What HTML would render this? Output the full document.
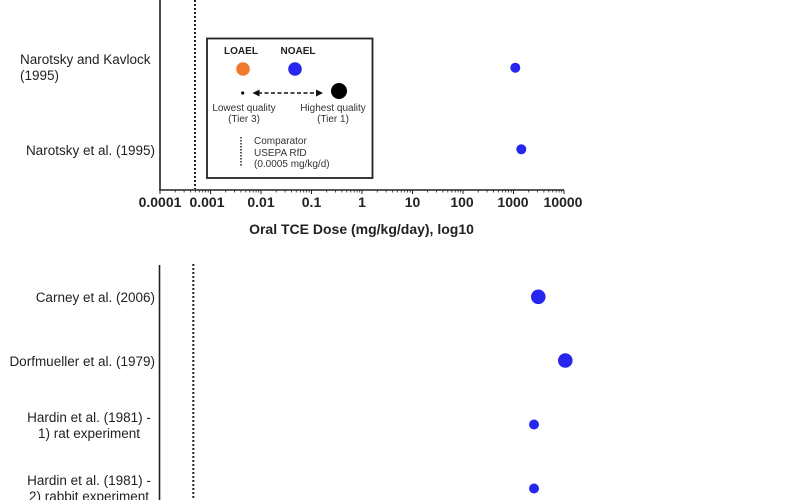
<!DOCTYPE html>
<html><head><meta charset="utf-8"><style>
html,body{margin:0;padding:0;background:#fff;}
svg{display:block;}
text{font-family:"Liberation Sans",Arial,sans-serif;fill:#222;}
</style></head><body>
<svg width="786" height="500" viewBox="0 0 786 500" xmlns="http://www.w3.org/2000/svg">
<rect width="786" height="500" fill="#fff"/>
<!-- Top panel -->
<line x1="160" y1="0" x2="160" y2="190" stroke="#222" stroke-width="1.6"/>
<line x1="159.2" y1="190" x2="564" y2="190" stroke="#222" stroke-width="1.6"/>
<line x1="195" y1="0" x2="195" y2="189" stroke="#222" stroke-width="2" stroke-dasharray="2,2"/>
<g stroke="#222" stroke-width="1">
<line x1="160" y1="190" x2="160" y2="194"/>
<line x1="210.5" y1="190" x2="210.5" y2="194"/>
<line x1="261" y1="190" x2="261" y2="194"/>
<line x1="311.5" y1="190" x2="311.5" y2="194"/>
<line x1="362" y1="190" x2="362" y2="194"/>
<line x1="412.5" y1="190" x2="412.5" y2="194"/>
<line x1="463" y1="190" x2="463" y2="194"/>
<line x1="513.5" y1="190" x2="513.5" y2="194"/>
<line x1="564" y1="190" x2="564" y2="194"/>
</g>
<g stroke="#222" stroke-width="0.8">
<!-- minor ticks per decade: 2..9 -->
<path d="M175.2 190v2.5M184.1 190v2.5M190.4 190v2.5M195.3 190v2.5M199.3 190v2.5M202.7 190v2.5M205.6 190v2.5M208.2 190v2.5
M225.7 190v2.5M234.6 190v2.5M240.9 190v2.5M245.8 190v2.5M249.8 190v2.5M253.2 190v2.5M256.1 190v2.5M258.7 190v2.5
M276.2 190v2.5M285.1 190v2.5M291.4 190v2.5M296.3 190v2.5M300.3 190v2.5M303.7 190v2.5M306.6 190v2.5M309.2 190v2.5
M326.7 190v2.5M335.6 190v2.5M341.9 190v2.5M346.8 190v2.5M350.8 190v2.5M354.2 190v2.5M357.1 190v2.5M359.7 190v2.5
M377.2 190v2.5M386.1 190v2.5M392.4 190v2.5M397.3 190v2.5M401.3 190v2.5M404.7 190v2.5M407.6 190v2.5M410.2 190v2.5
M427.7 190v2.5M436.6 190v2.5M442.9 190v2.5M447.8 190v2.5M451.8 190v2.5M455.2 190v2.5M458.1 190v2.5M460.7 190v2.5
M478.2 190v2.5M487.1 190v2.5M493.4 190v2.5M498.3 190v2.5M502.3 190v2.5M505.7 190v2.5M508.6 190v2.5M511.2 190v2.5
M528.7 190v2.5M537.6 190v2.5M543.9 190v2.5M548.8 190v2.5M552.8 190v2.5M556.2 190v2.5M559.1 190v2.5M561.7 190v2.5"/>
</g>
<g font-size="14" font-weight="bold" text-anchor="middle">
<text x="160" y="207">0.0001</text>
<text x="207" y="207">0.001</text>
<text x="261" y="207">0.01</text>
<text x="311.5" y="207">0.1</text>
<text x="362" y="207">1</text>
<text x="412.5" y="207">10</text>
<text x="462" y="207">100</text>
<text x="513" y="207">1000</text>
<text x="563" y="207">10000</text>
<text x="361.5" y="234">Oral TCE Dose (mg/kg/day), log10</text>
</g>
<g font-size="13.5">
<text x="20" y="64">Narotsky and Kavlock</text>
<text x="20" y="80">(1995)</text>
<text x="155" y="155" text-anchor="end">Narotsky et al. (1995)</text>
</g>
<circle cx="515.3" cy="67.7" r="5" fill="#2626ee"/>
<circle cx="521.3" cy="149.3" r="5" fill="#2626ee"/>
<!-- Legend -->
<rect x="207" y="38.5" width="165.5" height="139.5" fill="#fff" stroke="#222" stroke-width="1.8"/>
<g font-size="10" font-weight="bold" text-anchor="middle">
<text x="241" y="54">LOAEL</text>
<text x="298" y="54">NOAEL</text>
</g>
<circle cx="243" cy="69" r="6.8" fill="#f07a2c"/>
<circle cx="295" cy="69" r="6.8" fill="#2626ee"/>
<circle cx="242.7" cy="93" r="1.6" fill="#111"/>
<circle cx="339" cy="91" r="8" fill="#000"/>
<line x1="258" y1="93" x2="318" y2="93" stroke="#111" stroke-width="1.4" stroke-dasharray="4,2.5"/>
<polygon points="252.5,93 259.5,89.5 259.5,96.5" fill="#111"/>
<polygon points="323,93 316,89.5 316,96.5" fill="#111"/>
<g font-size="10" text-anchor="middle" style="fill:#333">
<text x="244" y="111" style="fill:#333">Lowest quality</text>
<text x="244" y="122" style="fill:#333">(Tier 3)</text>
<text x="333" y="111" style="fill:#333">Highest quality</text>
<text x="333" y="122" style="fill:#333">(Tier 1)</text>
</g>
<line x1="241" y1="137" x2="241" y2="166" stroke="#222" stroke-width="1.5" stroke-dasharray="1.5,1.5"/>
<g font-size="10">
<text x="254" y="144" style="fill:#333">Comparator</text>
<text x="254" y="156" style="fill:#333">USEPA RfD</text>
<text x="254" y="167" style="fill:#333">(0.0005 mg/kg/d)</text>
</g>
<!-- Bottom panel -->
<line x1="159.5" y1="265" x2="159.5" y2="500" stroke="#222" stroke-width="1.6"/>
<line x1="193.3" y1="264" x2="193.3" y2="500" stroke="#222" stroke-width="2" stroke-dasharray="2,2"/>
<g font-size="13.5">
<text x="155" y="302" text-anchor="end">Carney et al. (2006)</text>
<text x="155" y="366" text-anchor="end">Dorfmueller et al. (1979)</text>
<text x="89" y="422" text-anchor="middle">Hardin et al. (1981) -</text>
<text x="89" y="438" text-anchor="middle">1) rat experiment</text>
<text x="89" y="485" text-anchor="middle">Hardin et al. (1981) -</text>
<text x="89" y="501" text-anchor="middle">2) rabbit experiment</text>
</g>
<circle cx="538.3" cy="296.8" r="7.3" fill="#2626ee"/>
<circle cx="565.3" cy="360.5" r="7.3" fill="#2626ee"/>
<circle cx="534" cy="424.5" r="5" fill="#2626ee"/>
<circle cx="534" cy="488.5" r="5" fill="#2626ee"/>
</svg>
</body></html>
